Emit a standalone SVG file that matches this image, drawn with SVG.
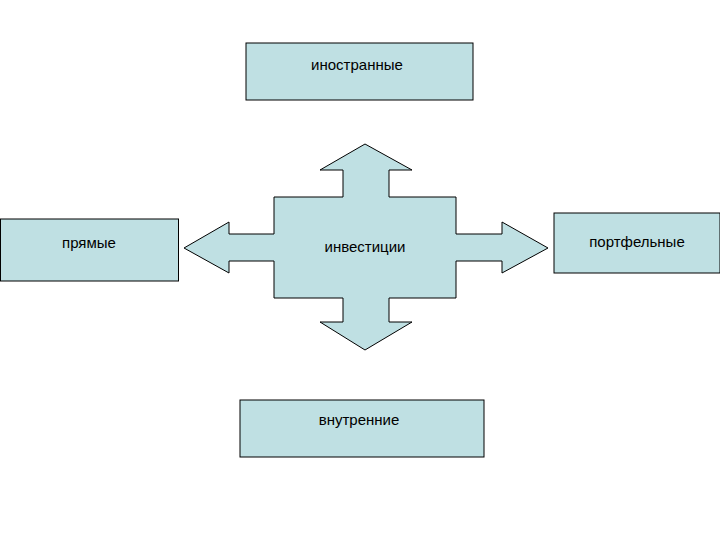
<svg xmlns="http://www.w3.org/2000/svg" width="720" height="540" viewBox="0 0 720 540">
<style>
.b{fill:#bfe0e3;stroke:#000;stroke-width:1}
text{font-family:"Liberation Sans",Arial,sans-serif;font-size:15px;text-anchor:middle;fill:#000}
</style>
<rect width="720" height="540" fill="#fff"/>
<g id="connectors">
<path class="b" d="M365,144 L412,170 L389,170 L389,197 L456,197 L456,234 L502,234 L502,222 L548,248 L502,273 L502,261 L456,261 L456,298 L389,298 L389,322 L412,322 L365,350 L320,322 L343,322 L343,298 L274,298 L274,261 L229,261 L229,273 L184,248 L229,222 L229,234 L274,234 L274,197 L343,197 L343,170 L320,170 Z"/>
</g>
<g id="center"><text x="365" y="252">инвестиции</text></g>
<g id="top"><rect class="b" x="246" y="43" width="227" height="57"/><text x="357" y="70">иностранные</text></g>
<g id="left"><rect class="b" x="0.5" y="219" width="178" height="62"/><text x="89" y="248">прямые</text></g>
<g id="right"><rect class="b" x="554" y="213" width="166" height="60"/><text x="637" y="247">портфельные</text></g>
<g id="bottom"><rect class="b" x="240" y="400" width="244" height="57"/><text x="359" y="425">внутренние</text></g>
</svg>
